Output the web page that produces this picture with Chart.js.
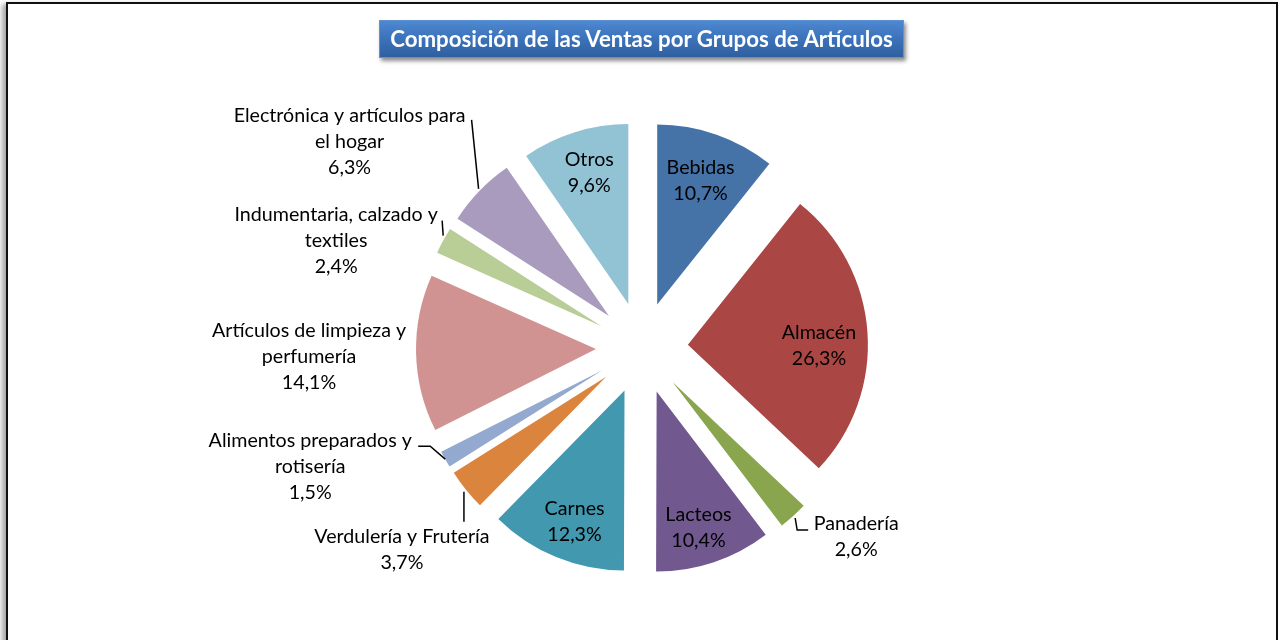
<!DOCTYPE html>
<html>
<head>
<meta charset="utf-8">
<script src="https://cdn.jsdelivr.net/npm/chart.js@4"></script>
<style>
  html, body { margin: 0; padding: 0; background: #fff; }
  body { width: 1279px; height: 640px; overflow: hidden; position: relative; }
  #frame {
    position: absolute; left: 6px; top: 2px; width: 1272px; height: 700px;
    border: 2px solid #111; box-sizing: border-box;
    box-shadow: -4px 2px 5px rgba(0, 0, 0, 0.35);
  }
  #chart { position: absolute; left: 0; top: 0; }
  #title {
    position: absolute; left: 379px; top: 20px; width: 525px; height: 38px;
    box-sizing: border-box;
    background: linear-gradient(#4c88d1, #3b72ba 50%, #2f5f9f);
    border: 1px solid #5d92d3;
    box-shadow: 2px 3px 4px rgba(0, 0, 0, 0.45);
    color: #fff; font-family: Lato, sans-serif; font-weight: bold; font-size: 20px;
    text-align: center; line-height: 36px; white-space: nowrap;
  }
</style>
</head>
<body>
<div id="frame"></div>
<canvas id="chart" width="1279" height="640"></canvas>
<div id="title">Composición de las Ventas por Grupos de Artículos</div>
<script>
// categories (multi-line where the label wraps), shares in %
const categories = [
    'Bebidas',
    'Almacén',
    'Panadería',
    'Lacteos',
    'Carnes',
    'Verdulería y Frutería',
    ['Alimentos preparados y', 'rotisería'],
    ['Artículos de limpieza y', 'perfumería'],
    ['Indumentaria, calzado y', 'textiles'],
    ['Electrónica y artículos para', 'el hogar'],
    'Otros'
];

const shares = [10.7, 26.3, 2.6, 10.4, 12.3, 3.7, 1.5, 14.1, 2.4, 6.3, 9.6];

const sliceColors = [
    '#4572A7',
    '#AA4643',
    '#89A54E',
    '#71588F',
    '#4198AF',
    '#DB843D',
    '#93A9CF',
    '#D19392',
    '#B9CD96',
    '#A99BBD',
    '#92C3D4'
];

// outside labels: text block offset from the slice tip, leader points from the tip
const outsideLabels = {
    2: { dx: 63, dy: 21, leader: [[2, 2], [4, 14], [15, 14]] },
    5: { dx: -64, dy: 60, leader: [[-2, 2], [-2, 32]] },
    6: { dx: -135, dy: 8, leader: [[0, 0], [-15, -13], [-27, -13]] },
    7: { dx: -107, dy: 3, leader: null },
    8: { dx: -107, dy: 0, leader: [[0, -5], [-1, -20]] },
    9: { dx: -130, dy: -49, leader: [[-1, -2], [-8, -71]] }
};

// small vertical nudges for the labels inside the slices
const insideNudge = { 1: 10, 3: 11, 4: 10, 10: -6 };

// size the label font so it spreads like the original
const measureCtx = document.createElement('canvas').getContext('2d');
function fitFont(text, target, weight) {
    measureCtx.font = weight + ' 20px Lato';
    return 20 * target / measureCtx.measureText(text).width;
}
const labelSize = fitFont('Electrónica y artículos para', 232, 'normal');
const titleSize = fitFont('Composición de las Ventas por Grupos de Artículos', 505, 'bold');
document.getElementById('title').style.fontSize = titleSize.toFixed(2) + 'px';

const explode = {
    id: 'explode',
    beforeDatasetDraw(chart, args, opts) {
        const ctx = chart.ctx;
        args.meta.data.forEach(arc => {
            const mid = (arc.startAngle + arc.endAngle) / 2;
            ctx.save();
            ctx.translate(Math.cos(mid) * opts.distance, Math.sin(mid) * opts.distance);
            arc.draw(ctx, chart.chartArea);
            ctx.restore();
        });
        return false;
    }
};

const sliceLabels = {
    id: 'sliceLabels',
    afterDraw(chart, args, opts) {
        const ctx = chart.ctx;
        const dist = chart.options.plugins.explode.distance;
        const lineH = 26;
        ctx.save();
        ctx.font = labelSize.toFixed(2) + 'px Lato';
        ctx.fillStyle = '#000';
        ctx.strokeStyle = '#000';
        ctx.lineWidth = 1.5;
        ctx.textAlign = 'center';
        ctx.textBaseline = 'middle';
        chart.getDatasetMeta(0).data.forEach((arc, i) => {
            const mid = (arc.startAngle + arc.endAngle) / 2;
            const cos = Math.cos(mid), sin = Math.sin(mid);
            const name = categories[i];
            const lines = (Array.isArray(name) ? name : [name]).concat(
                shares[i].toFixed(1).replace('.', ',') + '%');
            let cx, cy;
            const out = outsideLabels[i];
            if (out) {
                const tipX = arc.x + cos * (dist + arc.outerRadius);
                const tipY = arc.y + sin * (dist + arc.outerRadius);
                cx = tipX + out.dx;
                cy = tipY + out.dy;
                if (out.leader) {
                    ctx.beginPath();
                    out.leader.forEach((p, k) => {
                        if (k === 0) ctx.moveTo(tipX + p[0], tipY + p[1]);
                        else ctx.lineTo(tipX + p[0], tipY + p[1]);
                    });
                    ctx.stroke();
                }
            } else {
                const r = dist + arc.outerRadius * opts.inside;
                cx = arc.x + cos * r;
                cy = arc.y + sin * r + (insideNudge[i] || 0);
            }
            const top = cy - (lines.length - 1) * lineH / 2;
            lines.forEach((t, k) => ctx.fillText(t, cx, top + k * lineH));
        });
        ctx.restore();
    }
};

const dataPie = {
    labels: categories,
    datasets: [{
        data: shares,
        backgroundColor: sliceColors,
        borderWidth: 0,
        offset: 0,
        radius: 180
    }]
};

const configPie = {
    type: 'pie',
    data: dataPie,
    options: {
        responsive: false,
        animation: false,
        devicePixelRatio: 1,
        layout: {
            padding: { left: 200, right: 195, top: 100, bottom: 44 }
        },
        plugins: {
            legend: false,
            tooltip: { enabled: false },
            explode: { distance: 46 },
            sliceLabels: { inside: 0.73 }
        }
    },
    plugins: [explode, sliceLabels]
};

const pieChart = new Chart(
    document.getElementById('chart'),
    configPie
);
</script>
</body>
</html>
